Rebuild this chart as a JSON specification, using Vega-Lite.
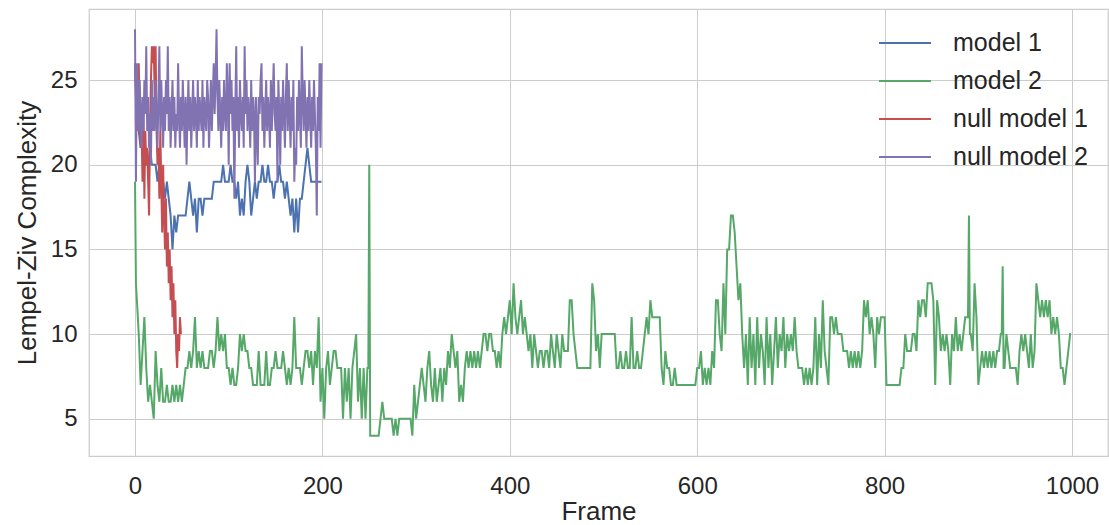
{
"$schema": "https://vega.github.io/schema/vega-lite/v6.json",
"autosize": {"type": "none"},
"padding": {"left": 89, "top": 9, "right": 1, "bottom": 69},
"width": 1019,
"height": 447,
"background": "white",
"datasets": {
"m1": [{"f":0,"v":26},{"f":2,"v":23},{"f":4,"v":22},{"f":6,"v":21},{"f":8,"v":22},{"f":10,"v":21},{"f":12,"v":20},{"f":14,"v":20},{"f":16,"v":21},{"f":18,"v":20},{"f":20,"v":20},{"f":22,"v":20},{"f":24,"v":19},{"f":26,"v":20},{"f":28,"v":19},{"f":30,"v":19},{"f":32,"v":18},{"f":34,"v":19},{"f":36,"v":18},{"f":38,"v":17},{"f":40,"v":15},{"f":42,"v":17},{"f":44,"v":16},{"f":46,"v":17},{"f":48,"v":17},{"f":50,"v":17},{"f":52,"v":17},{"f":54,"v":17},{"f":56,"v":18},{"f":58,"v":19},{"f":60,"v":18},{"f":62,"v":17},{"f":64,"v":18},{"f":66,"v":16},{"f":68,"v":18},{"f":70,"v":18},{"f":72,"v":17},{"f":74,"v":18},{"f":76,"v":18},{"f":78,"v":18},{"f":80,"v":18},{"f":82,"v":18},{"f":84,"v":19},{"f":86,"v":19},{"f":88,"v":19},{"f":90,"v":19},{"f":92,"v":19},{"f":94,"v":20},{"f":96,"v":19},{"f":98,"v":19},{"f":100,"v":19},{"f":102,"v":20},{"f":104,"v":19},{"f":106,"v":19},{"f":108,"v":18},{"f":110,"v":19},{"f":112,"v":17},{"f":114,"v":18},{"f":116,"v":17},{"f":118,"v":19},{"f":120,"v":20},{"f":122,"v":19},{"f":124,"v":17},{"f":126,"v":18},{"f":128,"v":19},{"f":130,"v":18},{"f":132,"v":19},{"f":134,"v":19},{"f":136,"v":20},{"f":138,"v":19},{"f":140,"v":19},{"f":142,"v":20},{"f":144,"v":19},{"f":146,"v":19},{"f":148,"v":18},{"f":150,"v":19},{"f":152,"v":19},{"f":154,"v":20},{"f":156,"v":19},{"f":158,"v":19},{"f":160,"v":18},{"f":162,"v":19},{"f":164,"v":18},{"f":166,"v":17},{"f":168,"v":18},{"f":170,"v":16},{"f":172,"v":18},{"f":174,"v":16},{"f":176,"v":18},{"f":178,"v":18},{"f":180,"v":19},{"f":182,"v":20},{"f":184,"v":21},{"f":186,"v":20},{"f":188,"v":19},{"f":190,"v":19},{"f":192,"v":19},{"f":194,"v":19},{"f":196,"v":19},{"f":198,"v":19},{"f":199,"v":19}],
"m2": [{"f":0,"v":19},{"f":1,"v":13},{"f":2,"v":12},{"f":4,"v":10},{"f":6,"v":7},{"f":8,"v":9},{"f":10,"v":11},{"f":12,"v":8},{"f":14,"v":6},{"f":16,"v":7},{"f":18,"v":6},{"f":20,"v":5},{"f":22,"v":9},{"f":24,"v":7},{"f":26,"v":6},{"f":28,"v":8},{"f":30,"v":6},{"f":32,"v":6},{"f":34,"v":7},{"f":36,"v":6},{"f":38,"v":6},{"f":40,"v":7},{"f":42,"v":6},{"f":44,"v":7},{"f":46,"v":6},{"f":48,"v":7},{"f":50,"v":6},{"f":52,"v":7},{"f":54,"v":8},{"f":56,"v":8},{"f":58,"v":9},{"f":60,"v":8},{"f":62,"v":9},{"f":64,"v":11},{"f":66,"v":8},{"f":68,"v":9},{"f":70,"v":8},{"f":72,"v":9},{"f":74,"v":8},{"f":76,"v":8},{"f":78,"v":8},{"f":80,"v":9},{"f":82,"v":9},{"f":84,"v":8},{"f":86,"v":9},{"f":88,"v":11},{"f":90,"v":9},{"f":92,"v":10},{"f":94,"v":9},{"f":96,"v":10},{"f":98,"v":8},{"f":100,"v":8},{"f":102,"v":7},{"f":104,"v":8},{"f":106,"v":7},{"f":108,"v":7},{"f":110,"v":8},{"f":112,"v":10},{"f":114,"v":9},{"f":116,"v":10},{"f":118,"v":9},{"f":120,"v":9},{"f":122,"v":8},{"f":124,"v":8},{"f":126,"v":7},{"f":128,"v":7},{"f":130,"v":7},{"f":132,"v":9},{"f":134,"v":7},{"f":136,"v":7},{"f":138,"v":7},{"f":140,"v":9},{"f":142,"v":7},{"f":144,"v":7},{"f":146,"v":8},{"f":148,"v":8},{"f":150,"v":9},{"f":152,"v":8},{"f":154,"v":8},{"f":156,"v":8},{"f":158,"v":9},{"f":160,"v":8},{"f":162,"v":7},{"f":164,"v":8},{"f":166,"v":7},{"f":168,"v":8},{"f":170,"v":11},{"f":172,"v":8},{"f":174,"v":8},{"f":176,"v":8},{"f":178,"v":7},{"f":180,"v":8},{"f":182,"v":9},{"f":184,"v":9},{"f":186,"v":8},{"f":188,"v":9},{"f":190,"v":7},{"f":192,"v":9},{"f":194,"v":8},{"f":196,"v":11},{"f":198,"v":6},{"f":200,"v":8},{"f":202,"v":5},{"f":204,"v":8},{"f":206,"v":9},{"f":208,"v":7},{"f":210,"v":8},{"f":212,"v":9},{"f":214,"v":9},{"f":216,"v":8},{"f":218,"v":8},{"f":220,"v":8},{"f":222,"v":5},{"f":224,"v":8},{"f":226,"v":6},{"f":228,"v":8},{"f":230,"v":5},{"f":232,"v":8},{"f":234,"v":9},{"f":236,"v":10},{"f":238,"v":6},{"f":240,"v":8},{"f":242,"v":5},{"f":244,"v":8},{"f":246,"v":5},{"f":248,"v":8},{"f":249,"v":8},{"f":250,"v":20},{"f":251,"v":4},{"f":252,"v":4},{"f":254,"v":4},{"f":256,"v":4},{"f":258,"v":4},{"f":260,"v":4},{"f":262,"v":5},{"f":264,"v":6},{"f":266,"v":5},{"f":268,"v":5},{"f":270,"v":5},{"f":272,"v":5},{"f":274,"v":5},{"f":276,"v":4},{"f":278,"v":5},{"f":280,"v":4},{"f":282,"v":5},{"f":284,"v":5},{"f":286,"v":5},{"f":288,"v":5},{"f":290,"v":5},{"f":292,"v":5},{"f":294,"v":5},{"f":296,"v":4},{"f":298,"v":7},{"f":300,"v":5},{"f":302,"v":6},{"f":304,"v":7},{"f":306,"v":8},{"f":308,"v":7},{"f":310,"v":6},{"f":312,"v":8},{"f":314,"v":9},{"f":316,"v":7},{"f":318,"v":6},{"f":320,"v":8},{"f":322,"v":6},{"f":324,"v":7},{"f":326,"v":8},{"f":328,"v":6},{"f":330,"v":8},{"f":332,"v":7},{"f":334,"v":9},{"f":336,"v":8},{"f":338,"v":10},{"f":340,"v":9},{"f":342,"v":8},{"f":344,"v":9},{"f":346,"v":6},{"f":348,"v":7},{"f":350,"v":6},{"f":352,"v":8},{"f":354,"v":9},{"f":356,"v":8},{"f":358,"v":9},{"f":360,"v":8},{"f":362,"v":9},{"f":364,"v":8},{"f":366,"v":9},{"f":368,"v":8},{"f":370,"v":9},{"f":372,"v":10},{"f":374,"v":10},{"f":376,"v":9},{"f":378,"v":10},{"f":380,"v":10},{"f":382,"v":9},{"f":384,"v":9},{"f":386,"v":8},{"f":388,"v":9},{"f":390,"v":8},{"f":392,"v":10},{"f":394,"v":11},{"f":396,"v":10},{"f":398,"v":11},{"f":400,"v":12},{"f":402,"v":10},{"f":404,"v":13},{"f":406,"v":11},{"f":408,"v":10},{"f":410,"v":11},{"f":412,"v":12},{"f":414,"v":10},{"f":416,"v":11},{"f":418,"v":10},{"f":420,"v":9},{"f":422,"v":10},{"f":424,"v":8},{"f":426,"v":10},{"f":428,"v":9},{"f":430,"v":8},{"f":432,"v":9},{"f":434,"v":9},{"f":436,"v":8},{"f":438,"v":9},{"f":440,"v":9},{"f":442,"v":8},{"f":444,"v":10},{"f":446,"v":9},{"f":448,"v":8},{"f":450,"v":10},{"f":452,"v":9},{"f":454,"v":8},{"f":456,"v":10},{"f":458,"v":9},{"f":460,"v":9},{"f":462,"v":9},{"f":464,"v":12},{"f":466,"v":12},{"f":468,"v":10},{"f":470,"v":9},{"f":472,"v":8},{"f":474,"v":8},{"f":476,"v":8},{"f":478,"v":8},{"f":480,"v":8},{"f":482,"v":8},{"f":484,"v":8},{"f":486,"v":8},{"f":488,"v":13},{"f":490,"v":12},{"f":492,"v":9},{"f":494,"v":10},{"f":496,"v":8},{"f":498,"v":10},{"f":500,"v":10},{"f":502,"v":10},{"f":504,"v":10},{"f":506,"v":10},{"f":508,"v":10},{"f":510,"v":10},{"f":512,"v":10},{"f":514,"v":8},{"f":516,"v":8},{"f":518,"v":9},{"f":520,"v":8},{"f":522,"v":8},{"f":524,"v":9},{"f":526,"v":8},{"f":528,"v":8},{"f":530,"v":11},{"f":532,"v":8},{"f":534,"v":8},{"f":536,"v":9},{"f":538,"v":8},{"f":540,"v":8},{"f":542,"v":9},{"f":544,"v":10},{"f":546,"v":11},{"f":548,"v":10},{"f":550,"v":12},{"f":552,"v":11},{"f":554,"v":11},{"f":556,"v":11},{"f":558,"v":11},{"f":560,"v":11},{"f":562,"v":8},{"f":564,"v":7},{"f":566,"v":9},{"f":568,"v":8},{"f":570,"v":8},{"f":572,"v":7},{"f":574,"v":7},{"f":576,"v":8},{"f":578,"v":7},{"f":580,"v":7},{"f":582,"v":7},{"f":584,"v":7},{"f":586,"v":7},{"f":588,"v":7},{"f":590,"v":7},{"f":592,"v":7},{"f":594,"v":7},{"f":596,"v":7},{"f":598,"v":7},{"f":600,"v":8},{"f":602,"v":8},{"f":604,"v":9},{"f":606,"v":7},{"f":608,"v":8},{"f":610,"v":7},{"f":612,"v":8},{"f":614,"v":7},{"f":616,"v":9},{"f":618,"v":8},{"f":620,"v":12},{"f":622,"v":12},{"f":624,"v":10},{"f":626,"v":9},{"f":628,"v":13},{"f":630,"v":10},{"f":632,"v":15},{"f":634,"v":15},{"f":636,"v":17},{"f":638,"v":17},{"f":640,"v":16},{"f":642,"v":14},{"f":644,"v":12},{"f":646,"v":13},{"f":648,"v":10},{"f":650,"v":8},{"f":652,"v":10},{"f":654,"v":7},{"f":656,"v":11},{"f":658,"v":8},{"f":660,"v":10},{"f":662,"v":7},{"f":664,"v":11},{"f":666,"v":8},{"f":668,"v":10},{"f":670,"v":9},{"f":672,"v":7},{"f":674,"v":11},{"f":676,"v":8},{"f":678,"v":10},{"f":680,"v":7},{"f":682,"v":9},{"f":684,"v":11},{"f":686,"v":8},{"f":688,"v":10},{"f":690,"v":9},{"f":692,"v":11},{"f":694,"v":8},{"f":696,"v":10},{"f":698,"v":9},{"f":700,"v":10},{"f":702,"v":9},{"f":704,"v":11},{"f":706,"v":9},{"f":708,"v":8},{"f":710,"v":8},{"f":712,"v":8},{"f":714,"v":7},{"f":716,"v":8},{"f":718,"v":7},{"f":720,"v":8},{"f":722,"v":7},{"f":724,"v":8},{"f":726,"v":11},{"f":728,"v":7},{"f":730,"v":10},{"f":732,"v":8},{"f":734,"v":12},{"f":736,"v":9},{"f":738,"v":8},{"f":740,"v":7},{"f":742,"v":11},{"f":744,"v":11},{"f":746,"v":10},{"f":748,"v":11},{"f":750,"v":10},{"f":752,"v":10},{"f":754,"v":10},{"f":756,"v":9},{"f":758,"v":9},{"f":760,"v":9},{"f":762,"v":8},{"f":764,"v":9},{"f":766,"v":8},{"f":768,"v":9},{"f":770,"v":8},{"f":772,"v":9},{"f":774,"v":8},{"f":776,"v":9},{"f":778,"v":12},{"f":780,"v":11},{"f":782,"v":12},{"f":784,"v":10},{"f":786,"v":11},{"f":788,"v":10},{"f":790,"v":8},{"f":792,"v":11},{"f":794,"v":10},{"f":796,"v":11},{"f":798,"v":11},{"f":800,"v":11},{"f":802,"v":7},{"f":804,"v":7},{"f":806,"v":7},{"f":808,"v":7},{"f":810,"v":7},{"f":812,"v":7},{"f":814,"v":7},{"f":816,"v":7},{"f":818,"v":8},{"f":820,"v":8},{"f":822,"v":10},{"f":824,"v":9},{"f":826,"v":9},{"f":828,"v":9},{"f":830,"v":10},{"f":832,"v":10},{"f":834,"v":9},{"f":836,"v":12},{"f":838,"v":11},{"f":840,"v":12},{"f":842,"v":12},{"f":844,"v":11},{"f":846,"v":13},{"f":848,"v":13},{"f":850,"v":13},{"f":852,"v":12},{"f":854,"v":7},{"f":856,"v":12},{"f":858,"v":11},{"f":860,"v":9},{"f":862,"v":10},{"f":864,"v":9},{"f":866,"v":10},{"f":868,"v":9},{"f":870,"v":7},{"f":872,"v":10},{"f":874,"v":9},{"f":876,"v":11},{"f":878,"v":9},{"f":880,"v":10},{"f":882,"v":9},{"f":884,"v":10},{"f":886,"v":11},{"f":888,"v":11},{"f":889,"v":11},{"f":890,"v":17},{"f":891,"v":10},{"f":892,"v":10},{"f":894,"v":9},{"f":896,"v":13},{"f":898,"v":11},{"f":900,"v":7},{"f":902,"v":8},{"f":904,"v":9},{"f":906,"v":8},{"f":908,"v":9},{"f":910,"v":8},{"f":912,"v":9},{"f":914,"v":8},{"f":916,"v":9},{"f":918,"v":8},{"f":920,"v":9},{"f":922,"v":9},{"f":924,"v":10},{"f":925,"v":10},{"f":926,"v":14},{"f":927,"v":8},{"f":928,"v":8},{"f":930,"v":10},{"f":932,"v":9},{"f":934,"v":8},{"f":936,"v":8},{"f":938,"v":8},{"f":940,"v":8},{"f":942,"v":7},{"f":944,"v":9},{"f":946,"v":10},{"f":948,"v":9},{"f":950,"v":10},{"f":952,"v":9},{"f":954,"v":8},{"f":956,"v":10},{"f":958,"v":8},{"f":960,"v":9},{"f":962,"v":13},{"f":964,"v":12},{"f":966,"v":11},{"f":968,"v":12},{"f":970,"v":11},{"f":972,"v":12},{"f":974,"v":11},{"f":976,"v":12},{"f":978,"v":10},{"f":980,"v":11},{"f":982,"v":10},{"f":984,"v":11},{"f":986,"v":10},{"f":988,"v":8},{"f":990,"v":8},{"f":992,"v":7},{"f":994,"v":8},{"f":996,"v":9},{"f":998,"v":10},{"f":999,"v":10}],
"n1": [{"f":0,"v":26},{"f":1,"v":24},{"f":2,"v":22},{"f":3,"v":25},{"f":4,"v":26},{"f":5,"v":23},{"f":6,"v":21},{"f":7,"v":22},{"f":8,"v":19},{"f":9,"v":23},{"f":10,"v":18},{"f":11,"v":22},{"f":12,"v":20},{"f":13,"v":21},{"f":14,"v":19},{"f":15,"v":17},{"f":16,"v":22},{"f":17,"v":25},{"f":18,"v":27},{"f":19,"v":26},{"f":20,"v":27},{"f":21,"v":24},{"f":22,"v":27},{"f":23,"v":22},{"f":24,"v":20},{"f":25,"v":21},{"f":26,"v":18},{"f":27,"v":22},{"f":28,"v":19},{"f":29,"v":16},{"f":30,"v":20},{"f":31,"v":17},{"f":32,"v":15},{"f":33,"v":18},{"f":34,"v":14},{"f":35,"v":16},{"f":36,"v":13},{"f":37,"v":15},{"f":38,"v":12},{"f":39,"v":14},{"f":40,"v":11},{"f":41,"v":13},{"f":42,"v":10},{"f":43,"v":12},{"f":44,"v":9},{"f":45,"v":8},{"f":46,"v":10},{"f":47,"v":9},{"f":48,"v":11},{"f":49,"v":10}],
"n2": [{"f":0,"v":28},{"f":1,"v":19},{"f":2,"v":26},{"f":3,"v":24},{"f":4,"v":22},{"f":5,"v":25},{"f":6,"v":23},{"f":7,"v":21},{"f":8,"v":24},{"f":9,"v":22},{"f":10,"v":25},{"f":11,"v":23},{"f":12,"v":27},{"f":13,"v":22},{"f":14,"v":24},{"f":15,"v":21},{"f":16,"v":23},{"f":17,"v":20},{"f":18,"v":25},{"f":19,"v":22},{"f":20,"v":24},{"f":21,"v":22},{"f":22,"v":25},{"f":23,"v":23},{"f":24,"v":21},{"f":25,"v":24},{"f":26,"v":27},{"f":27,"v":22},{"f":28,"v":25},{"f":29,"v":23},{"f":30,"v":21},{"f":31,"v":24},{"f":32,"v":22},{"f":33,"v":25},{"f":34,"v":23},{"f":35,"v":27},{"f":36,"v":22},{"f":37,"v":24},{"f":38,"v":21},{"f":39,"v":23},{"f":40,"v":25},{"f":41,"v":22},{"f":42,"v":24},{"f":43,"v":21},{"f":44,"v":23},{"f":45,"v":22},{"f":46,"v":26},{"f":47,"v":23},{"f":48,"v":21},{"f":49,"v":24},{"f":50,"v":22},{"f":51,"v":25},{"f":52,"v":23},{"f":53,"v":21},{"f":54,"v":24},{"f":55,"v":20},{"f":56,"v":23},{"f":57,"v":25},{"f":58,"v":22},{"f":59,"v":24},{"f":60,"v":21},{"f":61,"v":23},{"f":62,"v":25},{"f":63,"v":22},{"f":64,"v":24},{"f":65,"v":23},{"f":66,"v":21},{"f":67,"v":25},{"f":68,"v":22},{"f":69,"v":24},{"f":70,"v":23},{"f":71,"v":22},{"f":72,"v":25},{"f":73,"v":21},{"f":74,"v":24},{"f":75,"v":23},{"f":76,"v":22},{"f":77,"v":25},{"f":78,"v":24},{"f":79,"v":21},{"f":80,"v":23},{"f":81,"v":25},{"f":82,"v":22},{"f":83,"v":24},{"f":84,"v":26},{"f":85,"v":23},{"f":86,"v":25},{"f":87,"v":28},{"f":88,"v":24},{"f":89,"v":22},{"f":90,"v":25},{"f":91,"v":23},{"f":92,"v":21},{"f":93,"v":24},{"f":94,"v":22},{"f":95,"v":25},{"f":96,"v":23},{"f":97,"v":22},{"f":98,"v":26},{"f":99,"v":24},{"f":100,"v":20},{"f":101,"v":26},{"f":102,"v":23},{"f":103,"v":25},{"f":104,"v":22},{"f":105,"v":24},{"f":106,"v":18},{"f":107,"v":23},{"f":108,"v":27},{"f":109,"v":22},{"f":110,"v":24},{"f":111,"v":21},{"f":112,"v":25},{"f":113,"v":23},{"f":114,"v":22},{"f":115,"v":24},{"f":116,"v":21},{"f":117,"v":27},{"f":118,"v":23},{"f":119,"v":25},{"f":120,"v":22},{"f":121,"v":24},{"f":122,"v":23},{"f":123,"v":21},{"f":124,"v":25},{"f":125,"v":22},{"f":126,"v":24},{"f":127,"v":23},{"f":128,"v":19},{"f":129,"v":24},{"f":130,"v":22},{"f":131,"v":20},{"f":132,"v":24},{"f":133,"v":23},{"f":134,"v":25},{"f":135,"v":26},{"f":136,"v":22},{"f":137,"v":24},{"f":138,"v":21},{"f":139,"v":23},{"f":140,"v":25},{"f":141,"v":22},{"f":142,"v":24},{"f":143,"v":23},{"f":144,"v":21},{"f":145,"v":25},{"f":146,"v":22},{"f":147,"v":24},{"f":148,"v":26},{"f":149,"v":23},{"f":150,"v":22},{"f":151,"v":24},{"f":152,"v":19},{"f":153,"v":25},{"f":154,"v":23},{"f":155,"v":20},{"f":156,"v":24},{"f":157,"v":22},{"f":158,"v":25},{"f":159,"v":23},{"f":160,"v":21},{"f":161,"v":24},{"f":162,"v":26},{"f":163,"v":22},{"f":164,"v":25},{"f":165,"v":23},{"f":166,"v":21},{"f":167,"v":24},{"f":168,"v":22},{"f":169,"v":25},{"f":170,"v":19},{"f":171,"v":21},{"f":172,"v":20},{"f":173,"v":24},{"f":174,"v":22},{"f":175,"v":25},{"f":176,"v":23},{"f":177,"v":21},{"f":178,"v":27},{"f":179,"v":24},{"f":180,"v":22},{"f":181,"v":25},{"f":182,"v":23},{"f":183,"v":21},{"f":184,"v":24},{"f":185,"v":22},{"f":186,"v":25},{"f":187,"v":23},{"f":188,"v":21},{"f":189,"v":24},{"f":190,"v":22},{"f":191,"v":25},{"f":192,"v":23},{"f":193,"v":21},{"f":194,"v":17},{"f":195,"v":24},{"f":196,"v":22},{"f":197,"v":26},{"f":198,"v":21},{"f":199,"v":26}]
},
"encoding": {
"x": {"field": "f", "type": "quantitative", "scale": {"domain": [-49.1, 1038.4], "nice": false, "zero": false}, "axis": {"values": [0, 200, 400, 600, 800, 1000], "format": "d", "title": "Frame", "labelPadding": 18, "titlePadding": 0}},
"y": {"field": "v", "type": "quantitative", "scale": {"domain": [2.8, 29.2], "nice": false, "zero": false}, "axis": {"values": [5, 10, 15, 20, 25], "format": "d", "title": "Lempel-Ziv Complexity", "labelPadding": 12, "titlePadding": 10}}
},
"layer": [
{"data": {"name": "m1"}, "mark": {"type": "line", "strokeWidth": 2, "clip": true},
 "encoding": {"color": {"datum": "model 1", "type": "nominal",
  "scale": {"domain": ["model 1", "model 2", "null model 1", "null model 2"], "range": ["#4C72B0", "#55A868", "#C44E52", "#8172B2"]},
  "legend": {"orient": "none", "legendX": 802, "legendY": 20, "title": null, "symbolType": "M-2,0H2", "symbolSize": 676, "symbolStrokeWidth": 1.8, "labelOffset": 34, "rowPadding": 11, "padding": 0}}}},
{"data": {"name": "m2"}, "mark": {"type": "line", "strokeWidth": 2, "clip": true}, "encoding": {"color": {"datum": "model 2", "type": "nominal"}}},
{"data": {"name": "n1"}, "mark": {"type": "line", "strokeWidth": 2, "clip": true}, "encoding": {"color": {"datum": "null model 1", "type": "nominal"}}},
{"data": {"name": "n2"}, "mark": {"type": "line", "strokeWidth": 2, "clip": true}, "encoding": {"color": {"datum": "null model 2", "type": "nominal"}}}
],
"config": {
"view": {"stroke": "#cccccc", "strokeWidth": 1.25},
"font": "Liberation Sans",
"axis": {"grid": true, "gridColor": "#cccccc", "gridWidth": 1, "domain": false, "ticks": false, "labelFont": "Liberation Sans", "labelFontSize": 24, "labelColor": "#262626", "titleFont": "Liberation Sans", "titleFontSize": 26, "titleFontWeight": "normal", "titleColor": "#262626"},
"legend": {"labelFont": "Liberation Sans", "labelFontSize": 25, "labelColor": "#262626", "labelLimit": 300}
}
}
